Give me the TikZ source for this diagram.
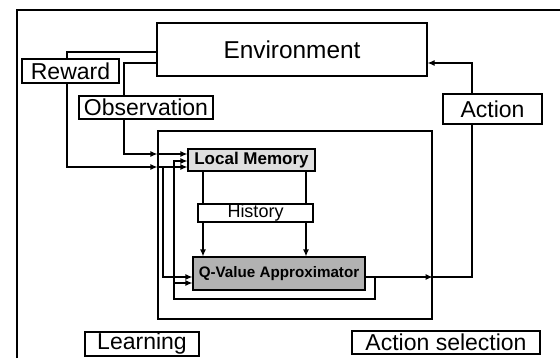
\documentclass[tikz,border=0pt]{standalone}
\usepackage{fontspec}
\setmainfont{Liberation Sans}
\usetikzlibrary{calc,arrows.meta}
\begin{document}
\begin{tikzpicture}[x=0.5pt,y=-0.5pt,
  box/.style={draw,line width=0.6pt,inner sep=0pt,anchor=center,font=\fontsize{11.5}{12}\selectfont},
  line/.style={line width=0.6pt},
  arr/.style={line width=0.6pt,-{Latex[length=3.5pt,width=3pt]}}]
\useasboundingbox (0,0) rectangle (560,358);
% outer frame
\draw[line] (17,358) -- (17,10) -- (560,10);
% nodes
\node[box,minimum width=135pt,minimum height=26.5pt,font=\fontsize{12.2}{13}\selectfont] (env) at (292,49.5) {Environment};
\node[box,minimum width=48.5pt,minimum height=12pt] (reward) at (70.5,71) {Reward};
\node[box,minimum width=67pt,minimum height=11.5pt] (obs) at (146,107.5) {Observation};
\node[box,minimum width=49.5pt,minimum height=15pt] (action) at (492.5,109) {Action};
\node[box,minimum width=137pt,minimum height=94pt] (agent) at (295,225) {};
\node[box,minimum width=63.5pt,minimum height=11pt,fill=gray!25,font=\fontsize{8.5}{10}\selectfont\bfseries] (lm) at (251.5,160) {Local Memory};
\node[box,minimum width=86pt,minimum height=16.5pt,fill=gray!60,font=\fontsize{7.6}{9}\selectfont\bfseries] (q) at (279,273.5) {Q-Value Approximator};
\node[box,minimum width=57pt,minimum height=12pt] (learn) at (142,344) {Learning};
\node[box,minimum width=94pt,minimum height=11.5pt] (asel) at (446,342.5) {Action selection};
% coordinates
\coordinate (ob) at ($(lm.west)+(0,-6)$);
\coordinate (fb) at ($(lm.west)+(0,1)$);
\coordinate (rw) at ($(lm.west)+(0,7)$);
\coordinate (qa) at ($(q.west)+(0,3.5)$);
\coordinate (qb) at ($(q.west)+(0,9.5)$);
\coordinate (qo) at ($(q.east)+(0,3.5)$);
\coordinate (ea) at ($(env.east)+(0,13.5)$);
\coordinate (rt) at ($(reward.north)+(-3.5,0)$);
\coordinate (rb) at ($(reward.south)+(-3.5,0)$);
% reward
\draw[line] ($(env.west)+(0,2.5)$) -| (rt);
\draw[arr] (rb) |- (agent.west |- rw);
\draw[arr] (agent.west |- rw) -- (rw);
\draw[arr] (163,0 |- rw) |- (qa);
% observation
\draw[line] ($(env.west)+(0,13.5)$) -| (obs.north west -| 124,0);
\draw[arr] (obs.south -| 124,0) |- (agent.west |- ob);
\draw[arr] (agent.west |- ob) -- (ob);
% feedback loop
\draw[arr] (qo) -- (375,0 |- qo) -- (375,299) -- (174,299) |- (fb);
\draw[arr] (174,0 |- qb) -- (qb);
% memory to Q
\draw[arr] (lm.south -| 203,0) -- (q.north -| 203,0);
\draw[arr] (lm.south -| 306,0) -- (q.north -| 306,0);
\node[box,minimum width=57.5pt,minimum height=9pt,fill=white,font=\fontsize{9}{10}\selectfont] (hist) at (255.5,213) {History};
% action
\draw[arr] (qo) -- (agent.east |- qo);
\draw[line] (agent.east |- qo) -| (action.south -| 472,0);
\draw[arr] (action.north -| 472,0) |- (ea);
\end{tikzpicture}
\end{document}
